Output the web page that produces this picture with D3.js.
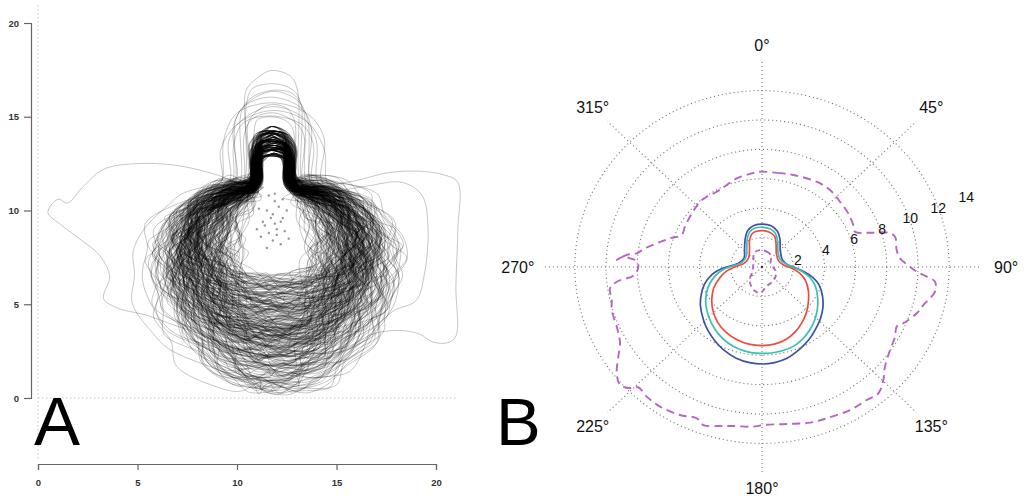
<!DOCTYPE html>
<html>
<head>
<meta charset="utf-8">
<script src="https://cdn.jsdelivr.net/npm/d3@7"></script>
<style>
  html, body { margin: 0; padding: 0; background: #fff; }
  svg { display: block; font-family: "Liberation Sans", Arial, sans-serif; }
</style>
</head>
<body>
<div id="chart"></div>
<script>
// ---------- Panel A: trajectories ----------
const A_TICKS = [0, 5, 10, 15, 20];

// per-trajectory features (cycled with co-prime lengths)
const NECK_HALF   = [0.6, 0.85, 0.72, 1.05, 0.78, 0.95, 0.66, 1.12, 0.82, 0.58, 0.9, 0.74, 1.0, 0.68, 0.88, 0.63, 0.97, 0.8, 1.08];
const NECK_TOP    = [13.85, 13.3, 14.3, 13.6, 13.05, 14.1, 13.45, 12.95, 13.75, 14.4, 13.2, 13.9, 13.55, 14.2,
  13.35, 13.0, 13.7, 14.0, 13.4, 13.8, 13.15, 14.25, 13.5];
const SHOULDER    = [11.2, 10.95, 11.5, 11.1];
const BOWL_W      = [4.2, 3.0, 5.2, 3.7, 4.7, 2.4, 5.8, 4.0, 3.4, 4.9, 4.4];
const BOWL_BOTTOM = [4.5, 2.6, 5.8, 3.6, 1.4, 5.2, 3.0, 4.0, 0.6, 6.2, 2.1, 3.4, 4.9];
const BOWL_SHIFT  = [-0.4, 0.2, 0.6, -0.1, 0.35];
const BOWL_LEAN   = [1.1, 0.9, 1.0, 1.2, 0.95, 1.05, 0.85, 1.15, 1.0, 0.92, 1.08, 1.18, 0.88, 1.02, 0.97, 1.12, 0.9];
const WOBBLE      = [0.12, -0.08, 0.15, -0.14, 0.05, -0.1, 0.18, -0.03, 0.09, -0.16, 0.02, 0.11, -0.12, 0.07,
  -0.05, 0.16, -0.18, 0.04, -0.07, 0.13, -0.11, 0.08, -0.02];
const N_LOOPS = 260;
const NECK_X = 11.8;

// normalised bowl outline (right half, shoulder -> bottom)
const BOWL_SHAPE = [[0.3, 0.0], [0.55, -0.04], [0.75, -0.12], [0.9, -0.24], [0.98, -0.38], [1.0, -0.5],
  [0.97, -0.62], [0.88, -0.75], [0.7, -0.87], [0.45, -0.96], [0.22, -0.995], [0, -1]];

// wide / tall excursions: [neck half width, neck top, left width, right width, bottom]
const TALL_LOOPS = [[1.3, 17.4, 4.5, 4.3, 2.0], [1.9, 16.0, 5.0, 5.2, 1.0], [2.5, 15.8, 4.0, 4.5, 3.0],
  [1.6, 16.5, 3.8, 4.8, 2.5], [2.2, 15.5, 5.5, 4.0, 1.8], [1.5, 15.2, 4.8, 5.0, 0.4],
  [1.0, 15.0, 4.2, 4.6, 2.2], [1.8, 16.3, 4.4, 3.9, 3.5], [1.2, 15.6, 5.2, 5.4, 1.2],
  [2.0, 15.1, 3.6, 4.2, 2.8], [1.4, 16.8, 4.6, 4.4, 0.9], [2.6, 15.3, 4.9, 5.6, 2.0]];

const OUT_LEFT = [[0.5, 9.9], [1.0, 10.6], [1.5, 10.4], [2.2, 11.2], [3.3, 12.2], [5, 12.5], [7, 12.4], [9, 11.9],
  [10.6, 11.3], [11.0, 11.8], [11.1, 12.9], [11.8, 13.7], [12.5, 12.9], [12.6, 11.6], [13.5, 11.2], [15.5, 10.8],
  [16.8, 9.5], [17.4, 7.5], [17, 5.5], [15.8, 3.8], [14, 2.6], [12, 2.2], [10, 2.6], [8.2, 3.4], [6.8, 3.9],
  [5.5, 4.4], [4, 4.8], [3.3, 5.3], [3.6, 6.5], [3.1, 7.6], [2.2, 8.4], [1.2, 9.2]];
const OUT_RIGHT = [[11.8, 13.8], [12.6, 13], [12.7, 11.5], [14, 11.3], [16, 11.6], [17.5, 12.0], [19, 12.1],
  [20.4, 11.9], [21.1, 11.5], [21.1, 9], [21.0, 6], [21.0, 3.3], [20.6, 2.95], [19.8, 3.0], [19.2, 3.4],
  [18.2, 3.6], [16.8, 3.4], [15.3, 2.5], [13.5, 1.8], [11.5, 1.8], [9.5, 2.4], [8, 3.4], [7.2, 5], [7.2, 7],
  [7.8, 9], [9, 10.6], [10.5, 11.0], [11.0, 11.6], [11.0, 12.8]];
const OUT_RIGHT2 = [[11.8, 13.4], [12.5, 12.8], [12.6, 11.3], [14.5, 11.0], [16.5, 11.3], [18.3, 11.5],
  [19.3, 10.8], [19.6, 9.0], [19.4, 6.5], [19.0, 5.2], [17.8, 4.6], [16.5, 3.2], [14.5, 1.5], [12.5, 0.8],
  [10.5, 1.2], [8.5, 2.2], [7.3, 3.8], [6.5, 6], [6.8, 8.5], [8, 10.3], [10, 11.0], [11.0, 11.4], [11.1, 12.7]];

const SPECKS = [[11.6, 10.8], [11.9, 10.5], [12.1, 10.2], [11.5, 10.0], [11.8, 9.8], [12.3, 9.6], [11.3, 9.4],
  [11.9, 9.3], [12.0, 9.0], [11.6, 8.8], [12.4, 8.9], [11.2, 8.6], [11.8, 8.4], [12.2, 8.2], [11.5, 8.0],
  [12.6, 8.5], [11.0, 9.0], [12.5, 10.0], [11.7, 9.6], [12.0, 8.7], [11.4, 9.2], [12.2, 9.4], [11.9, 10.9],
  [12.3, 10.6], [11.1, 10.1]];

// ---------- Panel B: polar contours (east, north in radius units) ----------
const RING_VALUES = [2, 4, 6, 8, 10, 12];
const RADIUS_LABELS = [2, 4, 6, 8, 10, 12, 14];
const ANGLES = [0, 45, 90, 135, 180, 225, 270, 315];
const R_MAX = 14;

const BLUE = [[0.05, 2.92], [0.55, 2.82], [0.98, 2.45], [1.15, 1.9], [1.17, 1.2], [1.3, 0.5], [1.6, 0.18],
  [2.2, -0.08], [2.7, -0.32], [3.25, -0.7], [3.65, -1.2], [3.88, -2.0], [3.9, -2.8], [3.75, -3.5], [3.4, -4.3],
  [3.0, -4.95], [2.4, -5.6], [1.6, -6.2], [0.8, -6.5], [0.05, -6.6], [-0.8, -6.5], [-1.65, -6.2], [-2.5, -5.6],
  [-3.0, -5.05], [-3.45, -4.35], [-3.75, -3.6], [-3.95, -2.6], [-3.9, -1.9], [-3.7, -1.2], [-3.2, -0.5],
  [-2.6, -0.12], [-2.0, 0.08], [-1.5, 0.25], [-1.15, 0.6], [-1.12, 1.2], [-1.08, 1.9], [-0.9, 2.5], [-0.48, 2.84]];
const TEAL = [[0.05, 2.7], [0.5, 2.6], [0.85, 2.3], [1.0, 1.8], [1.02, 1.1], [1.15, 0.55], [1.5, 0.22],
  [2.1, -0.05], [2.6, -0.32], [3.1, -0.75], [3.42, -1.3], [3.57, -2.1], [3.55, -2.85], [3.38, -3.6], [3.05, -4.3],
  [2.6, -4.9], [2.0, -5.4], [1.3, -5.7], [0.6, -5.85], [0.0, -5.87], [-0.7, -5.82], [-1.45, -5.6], [-2.2, -5.15],
  [-2.8, -4.55], [-3.25, -3.8], [-3.55, -2.9], [-3.6, -2.1], [-3.45, -1.35], [-3.0, -0.6], [-2.45, -0.15],
  [-1.8, 0.1], [-1.3, 0.3], [-1.02, 0.7], [-0.97, 1.3], [-0.95, 1.9], [-0.78, 2.4], [-0.45, 2.65]];
const RED = [[0.05, 2.47], [0.45, 2.38], [0.8, 2.1], [0.9, 1.6], [0.92, 0.95], [1.05, 0.45], [1.4, 0.12],
  [1.95, -0.1], [2.45, -0.45], [2.8, -0.95], [2.97, -1.6], [2.97, -2.4], [2.85, -3.1], [2.55, -3.8], [2.1, -4.45],
  [1.5, -4.95], [0.8, -5.25], [0.0, -5.35], [-0.85, -5.25], [-1.6, -4.95], [-2.3, -4.45], [-2.85, -3.75],
  [-3.15, -2.95], [-3.22, -2.2], [-3.1, -1.45], [-2.75, -0.8], [-2.3, -0.3], [-1.7, 0.02], [-1.15, 0.25],
  [-0.85, 0.65], [-0.8, 1.2], [-0.8, 1.8], [-0.65, 2.25], [-0.35, 2.43]];
const MAG_INNER = [[-0.15, 1.15], [0.3, 1.05], [0.6, 0.75], [0.55, 0.25], [0.9, -0.35], [0.75, -0.9], [0.3, -1.3],
  [-0.1, -1.75], [-0.5, -1.6], [-0.8, -0.9], [-0.6, -0.3], [-0.55, 0.4], [-0.5, 0.95]];
const MAG_OUTER = [[-0.13, 6.48], [1.0, 6.4], [2.0, 6.26], [3.5, 5.8], [4.36, 5.24], [5.0, 4.44], [5.53, 3.65],
  [5.85, 2.86], [5.96, 2.4], [6.92, 2.33], [8.1, 2.33], [8.53, 2.06], [8.63, 1.16], [8.85, 0.59], [9.49, 0.02],
  [9.92, -0.32], [10.34, -0.54], [11.09, -1.0], [11.09, -1.68], [10.34, -2.59], [9.92, -3.15], [9.06, -3.83],
  [8.63, -4.06], [8.53, -4.74], [8.21, -5.65], [7.88, -6.78], [7.78, -7.69], [7.46, -8.59], [6.71, -9.05],
  [5.64, -9.73], [4.15, -10.29], [3.08, -10.59], [1.58, -10.68], [0.08, -10.75], [-0.56, -10.86], [-1.84, -10.82],
  [-2.69, -10.82], [-3.76, -10.75], [-4.19, -10.29], [-5.26, -10.07], [-6.54, -9.5], [-7.39, -8.82], [-7.93, -8.18],
  [-8.35, -8.25], [-9.1, -8.03], [-9.31, -7.12], [-9.21, -6.1], [-9.1, -5.19], [-9.31, -4.06], [-9.63, -2.93],
  [-9.63, -2.24], [-9.74, -1.45], [-9.31, -1.0], [-8.67, -0.77], [-8.35, -0.66], [-8.03, -0.32], [-7.93, 0.14],
  [-8.14, 0.48], [-8.46, 0.59], [-8.89, 0.7], [-9.31, 0.48], [-8.6, 0.85], [-8.03, 0.93], [-7.5, 1.27],
  [-6.75, 1.61], [-5.9, 1.95], [-5.15, 2.18], [-4.94, 2.74], [-4.62, 3.42], [-4.29, 3.99], [-3.97, 4.44],
  [-3.54, 4.78], [-2.9, 5.12], [-2.26, 5.58], [-1.62, 6.03], [-0.77, 6.33]];

const svg = d3.select('#chart').append('svg').attr('width', 1030).attr('height', 496);
svg.append('rect').attr('width', 1030).attr('height', 496).attr('fill', '#fff');

// ================= Panel A =================
const xA = d3.scaleLinear().domain([0, 20]).range([38, 436]);
const yA = d3.scaleLinear().domain([0, 20]).range([398, 23]);
const gA = svg.append('g');

gA.append('line').attr('x1', xA(0)).attr('x2', xA(0)).attr('y1', 5).attr('y2', 460)
  .attr('stroke', '#c8c8c8').attr('stroke-width', 1).attr('stroke-dasharray', '1.5,2.5');
gA.append('line').attr('x1', xA(0)).attr('x2', 456).attr('y1', yA(0)).attr('y2', yA(0))
  .attr('stroke', '#c8c8c8').attr('stroke-width', 1).attr('stroke-dasharray', '1.5,2.5');

function loopPoints(nw, nt, sh, wl, wr, bb, shift, i) {
  const D = sh - bb;
  // shallow loops cannot be as wide as deep ones
  const wMax = 0.55 * D + 1.6;
  wl = Math.min(wl, wMax); wr = Math.min(wr, wMax);
  const pts = [];
  const cx = NECK_X;
  const r = Math.max(nw, 0.8);
  const wob = (j, k) => WOBBLE[(i * 7 + j * (k + 3) + k * 11) % WOBBLE.length];
  const nj = j => wob(j + 29, 0) * 0.5;
  pts.push([cx + nj(0), nt + nj(1)], [cx + 0.7 * nw + nj(2), nt - 0.25 * r + nj(3)], [cx + nw + nj(4), nt - 0.8 * r],
    [cx + nw + nj(5), sh + 0.45], [cx + nw + 0.3, sh + 0.04 + nj(6)]);
  BOWL_SHAPE.forEach(([u, v], j) => {
    if (u * wr > nw + 0.6 || v < -0.2) pts.push([cx + shift + u * wr + 2.4 * wob(j, 0), sh + v * D + 2.4 * wob(j, 1)]);
  });
  BOWL_SHAPE.slice().reverse().forEach(([u, v], j) => {
    if (u === 0) return;
    if (u * wl > nw + 0.6 || v < -0.2) pts.push([cx + shift - u * wl + 2.4 * wob(j + 13, 0), sh + v * D + 2.4 * wob(j + 13, 1)]);
  });
  pts.push([cx - nw - 0.3, sh + 0.04 + nj(7)], [cx - nw + nj(8), sh + 0.45], [cx - nw + nj(9), nt - 0.8 * r],
    [cx - 0.7 * nw + nj(10), nt - 0.25 * r + nj(11)]);
  return pts;
}

const loops = [];
for (let i = 0; i < N_LOOPS; i++) {
  const W = BOWL_W[i % BOWL_W.length];
  const lean = BOWL_LEAN[i % BOWL_LEAN.length];
  loops.push(loopPoints(NECK_HALF[i % NECK_HALF.length], NECK_TOP[i % NECK_TOP.length],
    SHOULDER[i % SHOULDER.length], W * lean, W * (2 - lean), BOWL_BOTTOM[i % BOWL_BOTTOM.length],
    BOWL_SHIFT[i % BOWL_SHIFT.length], i));
}
TALL_LOOPS.forEach((t, k) => loops.push(loopPoints(t[0], t[1], 11.2, t[2], t[3], t[4], 0.2, k * 5 + 3)));
loops.push(OUT_LEFT, OUT_RIGHT, OUT_RIGHT2);

const lineA = d3.line().x(d => xA(d[0])).y(d => yA(d[1])).curve(d3.curveCatmullRomClosed.alpha(0.5));
gA.append('g').selectAll('path').data(loops).join('path')
  .attr('d', lineA).attr('fill', 'none').attr('stroke', '#000')
  .attr('stroke-opacity', 0.25).attr('stroke-width', 0.9);

gA.append('g').selectAll('circle').data(SPECKS).join('circle')
  .attr('cx', d => xA(d[0])).attr('cy', d => yA(d[1])).attr('r', 1.2)
  .attr('fill', '#444').attr('fill-opacity', 0.55);

const axLeft = gA.append('g').attr('transform', 'translate(31,0)')
  .call(d3.axisLeft(yA).tickValues(A_TICKS).tickSize(7).tickSizeOuter(7).tickPadding(5));
const axBottom = gA.append('g').attr('transform', 'translate(0,464)')
  .call(d3.axisBottom(xA).tickValues(A_TICKS).tickSize(6).tickSizeOuter(6).tickPadding(9));
[axLeft, axBottom].forEach(ax => {
  ax.selectAll('path, line').attr('stroke', '#666').attr('stroke-width', 1.2);
  ax.selectAll('text').attr('fill', '#333').style('font-size', '9.5px').style('font-weight', 'bold')
    .style('font-family', '"Liberation Sans", Arial, sans-serif');
});

svg.append('text').attr('x', 34).attr('y', 445).attr('font-size', 69).attr('fill', '#000').text('A');

// ================= Panel B =================
const CX = 762, CY = 267;
const bx = d3.scaleLinear().domain([-R_MAX, R_MAX]).range([CX - 15.6 * R_MAX, CX + 15.6 * R_MAX]);
const by = d3.scaleLinear().domain([-R_MAX, R_MAX]).range([CY + 14.7 * R_MAX, CY - 14.7 * R_MAX]);
const gB = svg.append('g');
const dotted = sel => sel.attr('fill', 'none').attr('stroke', '#777').attr('stroke-width', 1.1).attr('stroke-dasharray', '1.1,2.9');

gB.selectAll('ellipse.ring').data(RING_VALUES).join('ellipse').attr('class', 'ring')
  .attr('cx', bx(0)).attr('cy', by(0))
  .attr('rx', d => bx(d) - bx(0)).attr('ry', d => by(0) - by(d)).call(dotted);

gB.selectAll('line.spoke').data(ANGLES).join('line').attr('class', 'spoke')
  .attr('x1', bx(0)).attr('y1', by(0))
  .attr('x2', a => bx(R_MAX * Math.sin(a * Math.PI / 180)))
  .attr('y2', a => by(R_MAX * Math.cos(a * Math.PI / 180))).call(dotted);

gB.append('circle').attr('cx', bx(0)).attr('cy', by(0)).attr('r', 1.2).attr('fill', '#333');

const lineB = d3.line().x(d => bx(d[0])).y(d => by(d[1])).curve(d3.curveCatmullRomClosed.alpha(0.5));
gB.append('path').datum(MAG_OUTER).attr('d', lineB).attr('fill', 'none')
  .attr('stroke', '#b565c3').attr('stroke-width', 1.9).attr('stroke-dasharray', '8,5');
gB.append('path').datum(MAG_INNER).attr('d', lineB).attr('fill', 'none')
  .attr('stroke', '#b565c3').attr('stroke-width', 1.9).attr('stroke-dasharray', '5,4');
[[BLUE, '#3d4fa6'], [TEAL, '#3cbfb2'], [RED, '#f04a3c']].forEach(([d, c]) => {
  gB.append('path').datum(d).attr('d', lineB).attr('fill', 'none').attr('stroke', c).attr('stroke-width', 1.7);
});

gB.selectAll('text.rlab').data(RADIUS_LABELS).join('text').attr('class', 'rlab')
  .attr('x', k => bx(0.9 * k + 0.5)).attr('y', k => by(0.357 * k - 0.27))
  .attr('text-anchor', 'middle').attr('dominant-baseline', 'central')
  .attr('font-size', 14).attr('fill', '#111').text(k => k);

gB.selectAll('text.alab').data(ANGLES).join('text').attr('class', 'alab')
  .attr('x', a => { const s = Math.sin(a * Math.PI / 180); return bx((15.05 + 0.6 * s * s) * s); })
  .attr('y', a => { const s = Math.sin(a * Math.PI / 180), c = Math.cos(a * Math.PI / 180); return by((15.05 + 0.6 * s * s) * c); })
  .attr('text-anchor', 'middle').attr('dominant-baseline', 'central')
  .attr('font-size', 16).attr('fill', '#111').text(a => a + '°');

svg.append('text').attr('x', 496).attr('y', 445).attr('font-size', 67).attr('fill', '#000').text('B');
</script>
</body>
</html>
